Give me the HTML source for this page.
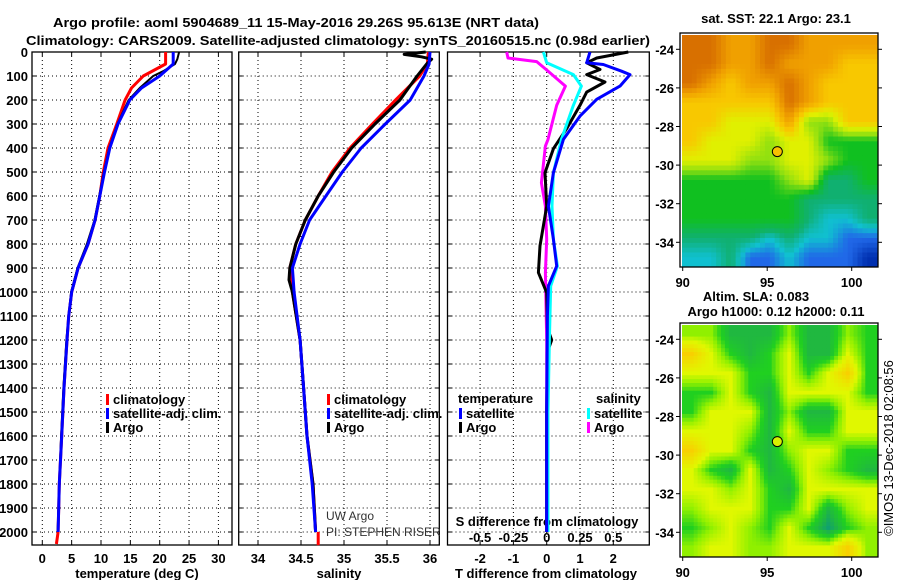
<!DOCTYPE html>
<html><head><meta charset="utf-8"><style>
html,body{margin:0;padding:0;background:#fff;}
svg{display:block;font-family:"Liberation Sans",sans-serif;}
.b{font-weight:bold;font-size:13px;}
</style></head><body>
<svg id="c" width="900" height="580" viewBox="0 0 900 580" xmlns="http://www.w3.org/2000/svg">
<text class="b" x="296" y="27" text-anchor="middle" font-size="14" textLength="486" lengthAdjust="spacingAndGlyphs">Argo profile: aoml 5904689_11 15-May-2016 29.26S 95.613E (NRT data)</text>
<text class="b" x="338" y="45" text-anchor="middle" font-size="14" textLength="624" lengthAdjust="spacingAndGlyphs">Climatology: CARS2009. Satellite-adjusted climatology: synTS_20160515.nc (0.98d earlier)</text>
<g id="g"></g>
</svg>
<script>
// ---- data ----
const depthTicks=[0,100,200,300,400,500,600,700,800,900,1000,1100,1200,1300,1400,1500,1600,1700,1800,1900,2000];
const tempTicks=[0,5,10,15,20,25,30];
const salTicks=[34,34.5,35,35.5,36];
const tdiffTicks=[-2,-1,0,1,2];
const sdiffTicks=[-0.5,-0.25,0,0.25,0.5];
const tClimDepth=[0,50,100,150,200,300,400,500,600,700,800,900,1000,1100,1200,1400,1600,1800,2000,2050];
const tClim=[21.0,21.0,17.2,15.2,14.1,12.7,11.2,10.4,9.8,9.0,7.8,6.1,5.0,4.5,4.2,3.7,3.3,2.9,2.7,2.4];
const tSatDepth=[0,50,100,150,200,300,400,500,600,700,800,900,1000,1100,1200,1400,1600,1800,2000];
const tSat=[22.3,22.3,20.0,16.9,14.9,12.9,11.5,10.6,9.8,9.0,7.8,6.1,5.0,4.5,4.2,3.7,3.3,2.9,2.7];
const tArgoDepth=[0,30,50,80,100,150,200,300,400,500,600,700,800,900,1000,1100,1200,1400,1600,1800,2000];
const tArgo=[23.3,23.0,22.6,20.6,18.9,16.6,14.7,12.8,11.4,10.5,9.7,8.9,7.6,6.0,4.9,4.5,4.1,3.6,3.2,2.9,2.6];
const sDepth=[0,50,100,200,300,400,500,600,700,800,900,1000,1200,1400,1600,1800,2000];
const sClim=[35.98,35.97,35.88,35.6,35.33,35.07,34.86,34.70,34.55,34.44,34.37,34.40,34.49,34.53,34.57,34.64,34.67];
const sSat=[36.0,35.99,35.93,35.77,35.48,35.2,34.98,34.79,34.6,34.49,34.4,34.42,34.49,34.53,34.57,34.63,34.67];
const sArgoDepth=[0,10,20,30,50,100,200,300,400,500,600,700,800,900,950,1000,1200,1400,1600,1800,2000];
const sArgo=[35.95,35.7,35.9,36.02,35.96,35.85,35.65,35.36,35.09,34.88,34.70,34.55,34.44,34.37,34.36,34.4,34.49,34.53,34.57,34.64,34.67];
const sClimDeep=[[2000,34.70],[2055,34.70]];
const dTDepth=[0,45,52,80,94,142,197,267,364,503,642,780,892,975,1100,1500,2000];
const dTSat=[1.3,1.2,1.7,2.25,2.5,2.2,1.5,1.0,0.5,0.2,0.05,0.2,0.3,0.05,0.02,0.0,0.0];
const dTArgoDepth=[0,25,45,73,94,125,167,222,319,403,503,642,808,919,1003,1150,1200,1250,1500,2000];
const dTArgo=[2.45,1.5,1.2,1.6,1.2,1.75,1.2,1.0,0.6,0.2,-0.05,0.0,-0.2,-0.25,0.0,0.02,0.15,0.02,0.0,0.0];
const dSDepth=[0,45,94,142,222,364,503,642,780,892,975,1200,1500,2000];
const dSSat=[-0.025,0,0.2,0.26,0.2,0.11,0.05,0.04,0.05,0.08,0.03,0.02,0.01,0.01];
const dSArgoDepth=[0,25,40,75,142,222,364,392,545,642,780,919,1200,2000];
const dSArgo=[-0.3,-0.29,-0.075,0.0,0.14,0.075,0.01,-0.01,-0.04,-0.01,0.0,-0.01,0.0,0.0];
const mapLonTicks=[90,95,100];
const mapLatTicks=[-24,-26,-28,-30,-32,-34];
const sstGrid=[
[7,7,6,6,7,7,6,6,6,6],[7,7,6,6,7,6,6,6,5,5],[7,6,5,6,6,7,6,5,5,5],[5,5,5,5,5,7,6,5,5,5],
[5,5,4,4,4,6,3,3,5,5],[5,4,4,4,3,4,4,2,2,2],[4,4,4,3,3,4,4,3,2,2],[2,2,2,2,2,3,4,1,1,2],
[2,2,2,2,2,2,1,1,1,1],[2,2,2,2,2,2,1,0.5,0.5,1],[1,1,1,1,0.5,1,0.5,0.5,0,0],[0.5,0.5,1,0,0,0.5,0,0,0,-1]];
const slaGrid=[
[1.5,1.5,0.5,0.5,0.5,1.5,0.5,0.5,1.5,1],[3,2,1,0.5,1,2,0.5,0.5,2,1],[2,2,2,1,1,2,1,2,3,1],
[1,1,2,1,0.5,2,2,2,2,1],[1,2,2,2,0.5,1.5,0.5,0.5,2,2],[2,2,2,1.5,0.5,2,1,1,2,2],
[3,2,2,1,0.5,1.5,2,2,1,1],[2,1,0.5,2,0.5,1,2,1.5,1,0.5],[2,2,1.5,2,1,0.5,2,2,2,2],
[1.5,2,2,2,1,1,2,0.5,1.5,2],[1,1.5,2,1.5,1,2,1,0,1,1.5],[1.5,2,2,1.5,1.5,2,2,2,3,1.5]];
const argoPos=[95.6,-29.3];

// ---- helpers ----
const NS="http://www.w3.org/2000/svg";const G=document.getElementById('g');
function mk(t,a,p){const e=document.createElementNS(NS,t);for(const k in a)e.setAttribute(k,a[k]);(p||G).appendChild(e);return e;}
function txt(x,y,s,a,p){const e=mk('text',Object.assign({x:x,y:y},a),p);e.textContent=s;return e;}
const TOP=52,BOT=545;
const yD=d=>TOP+d*0.24;
const panels=[
 {l:32,r:232,x:v=>42.3+v*5.87,ticks:tempTicks,name:'temperature'},
 {l:238.7,r:439.3,x:v=>258+(v-34)*86,ticks:salTicks,name:'salinity'},
 {l:447.5,r:649.3,x:v=>546.7+v*33.3,ticks:tdiffTicks,name:'difference'}];
const xS=v=>546.7+v*133.3;
panels.forEach((P,i)=>{
 const g=mk('g',{});
 
 
 depthTicks.forEach(d=>{const y=yD(d);
  const ln=mk('line',{x1:P.l,x2:P.r,y1:y,y2:y,stroke:'#000','stroke-width':1,'stroke-dasharray':'1,3'},g);
  
  mk('line',{x1:P.l,x2:P.l+4,y1:y,y2:y,stroke:'#000'},g);mk('line',{x1:P.r-4,x2:P.r,y1:y,y2:y,stroke:'#000'},g);
 });
 P.ticks.forEach(v=>{const x=P.x(v);
  const ln=mk('line',{x1:x,x2:x,y1:TOP,y2:BOT,stroke:'#000','stroke-dasharray':'1,3'},g);
  
  mk('line',{x1:x,x2:x,y1:BOT-4,y2:BOT,stroke:'#000'},g);mk('line',{x1:x,x2:x,y1:TOP,y2:TOP+4,stroke:'#000'},g);
  const t=txt(x,563,String(v),{'class':'b','text-anchor':'middle'},g);
  
 });
 const fr=mk('rect',{x:P.l,y:TOP,width:P.r-P.l,height:BOT-TOP,fill:'none',stroke:'#000','stroke-width':1.3},g);
 
});
depthTicks.forEach(d=>{const t=txt(28,yD(d)+5,String(d),{'class':'b','text-anchor':'end'});
 });
let t;
t=txt(137,578,'temperature (deg C)',{'class':'b','text-anchor':'middle'});
t=txt(339,578,'salinity',{'class':'b','text-anchor':'middle'});
t=txt(546,578,'T difference from climatology',{'class':'b','text-anchor':'middle'});
t=txt(547,526,'S difference from climatology',{'class':'b','text-anchor':'middle'});
sdiffTicks.forEach(v=>{const t=txt(xS(v),542,String(v),{'class':'b','text-anchor':'middle'});});

function line(depths,vals,xf,color,name,w){
 const pts=depths.map((d,i)=>xf(vals[i]).toFixed(1)+','+yD(d).toFixed(1)).join(' ');
 const e=mk('polyline',{points:pts,fill:'none',stroke:color,'stroke-width':w||3,'stroke-linejoin':'round'});
 
 
}
const PT=panels[0].x,PS=panels[1].x,PD=panels[2].x;
line(tClimDepth,tClim,PT,'#f00','temp-climatology-line');
line(tArgoDepth,tArgo,PT,'#000','temp-argo-line',2);
line(tSatDepth,tSat,PT,'#00f','temp-satellite-line');
line(sDepth,sClim,PS,'#f00','sal-climatology-line');
line(sClimDeep.map(a=>a[0]),sClimDeep.map(a=>a[1]),PS,'#f00','sal-climatology-deep-line');
line(sArgoDepth,sArgo,PS,'#000','sal-argo-line');
line(sDepth,sSat,PS,'#00f','sal-satellite-line');
line(dSArgoDepth,dSArgo,xS,'#f0f','sdiff-argo-line');
line(dTArgoDepth,dTArgo,PD,'#000','tdiff-argo-line');
line(dSDepth,dSSat,xS,'#0ff','sdiff-satellite-line');
line(dTDepth,dTSat,PD,'#00f','tdiff-satellite-line');

function leg(x,y,color,label,name){
 const g=mk('g',{});
 mk('rect',{x:x-2,y:y-10,width:3,height:11,fill:color},g);
 txt(x+5,y,label,{'class':'b'},g);
}
[[108,'#f00','climatology'],[108,'#00f','satellite-adj. clim.'],[108,'#000','Argo']].forEach((a,i)=>leg(a[0],404+i*14,a[1],a[2],'legend-entry'));
[[329,'#f00','climatology'],[329,'#00f','satellite-adj. clim.'],[329,'#000','Argo']].forEach((a,i)=>leg(a[0],404+i*14,a[1],a[2],'legend-entry'));
t=txt(458,403,'temperature',{'class':'b'});
t=txt(596,403,'salinity',{'class':'b'});
leg(461,418,'#00f','satellite','legend-entry');leg(461,432,'#000','Argo','legend-entry');
leg(589,418,'#0ff','satellite','legend-entry');leg(589,432,'#f0f','Argo','legend-entry');
t=txt(326,520,'UW Argo',{'font-size':12,fill:'#333'});
t=txt(326,536,'PI: STEPHEN RISER',{'font-size':12,fill:'#333'});

// ---- maps ----
const sstKeys=[[-1,[0,48,176]],[0,[32,104,232]],[0.5,[16,192,208]],[1,[16,176,112]],[2,[16,192,32]],[3,[144,224,16]],[4,[224,240,0]],[5,[248,200,0]],[6,[240,160,0]],[7,[216,112,0]]];
const slaKeys=[[0,[16,160,112]],[0.5,[32,184,64]],[1,[32,208,32]],[1.5,[144,240,0]],[2,[224,248,0]],[3,[248,208,0]]];
function cmap(keys,v){
 if(v<=keys[0][0])return keys[0][1];
 for(let i=1;i<keys.length;i++){if(v<=keys[i][0]){const a=keys[i-1],b=keys[i],f=(v-a[0])/(b[0]-a[0]);
  return a[1].map((c,j)=>Math.round(c+(b[1][j]-c)*f));}}
 return keys[keys.length-1][1];
}
function sample(grid,gx,gy){
 const nr=grid.length,nc=grid[0].length;
 gx=Math.max(0,Math.min(nc-1,gx));gy=Math.max(0,Math.min(nr-1,gy));
 const x0=Math.floor(gx),y0=Math.floor(gy),x1=Math.min(nc-1,x0+1),y1=Math.min(nr-1,y0+1),fx=gx-x0,fy=gy-y0;
 return (grid[y0][x0]*(1-fx)+grid[y0][x1]*fx)*(1-fy)+(grid[y1][x0]*(1-fx)+grid[y1][x1]*fx)*fy;
}
function map(top,grid,keys,name,dotFill,up){
 const L=682,R=877,T=top+2,B=top+234;
 const lx=v=>682.7+(v-90)*16.9, ly=v=>(top+16.3)+(-24-v)*19.3;
 const g=mk('g',{});
 const nr=grid.length*up,nc=grid[0].length*up,cw=(R-L)/nc,ch=(B-T)/nr;
 for(let r=0;r<nr;r++)for(let c=0;c<nc;c++){
  const v=sample(grid,(c+0.5)/up-0.5,(r+0.5)/up-0.5);
  const col=cmap(keys,v);
  const e=mk('rect',{x:(L+c*cw).toFixed(2),y:(T+r*ch).toFixed(2),width:(cw+0.5).toFixed(2),height:(ch+0.5).toFixed(2),fill:'rgb('+col.join(',')+')'},g);
  
  
 }
 mk('rect',{x:680,y:top,width:198,height:234,fill:'none',stroke:'#000','stroke-width':1.3},g);
 mapLonTicks.forEach(v=>{const x=lx(v);mk('line',{x1:x,x2:x,y1:top+234,y2:top+238,stroke:'#000'},g);
  const t=txt(x,top+254,String(v),{'class':'b','text-anchor':'middle'},g);});
 mapLatTicks.forEach(v=>{const y=ly(v);mk('line',{x1:676,x2:680,y1:y,y2:y,stroke:'#000'},g);mk('line',{x1:878,x2:882,y1:y,y2:y,stroke:'#000'},g);
  const t=txt(674,y+5,String(v),{'class':'b','text-anchor':'end'},g);});
 const d=mk('circle',{cx:lx(argoPos[0]),cy:ly(argoPos[1]),r:5,fill:dotFill,stroke:'#000','stroke-width':1},g);
 
}
map(33,sstGrid,sstKeys,'sst-map','#f8c000',4);
map(323,slaGrid,slaKeys,'sla-map','#d8f000',5);
t=txt(776,23,'sat. SST: 22.1 Argo: 23.1',{'class':'b','text-anchor':'middle'});
t=txt(756,301,'Altim. SLA: 0.083',{'class':'b','text-anchor':'middle'});
t=txt(776,316,'Argo h1000: 0.12 h2000: 0.11',{'class':'b','text-anchor':'middle'});
t=txt(0,0,'©IMOS 13-Dec-2018 02:08:56',{'font-size':13,'text-anchor':'middle',transform:'translate(893,448) rotate(-90)'});
</script>
</body></html>
